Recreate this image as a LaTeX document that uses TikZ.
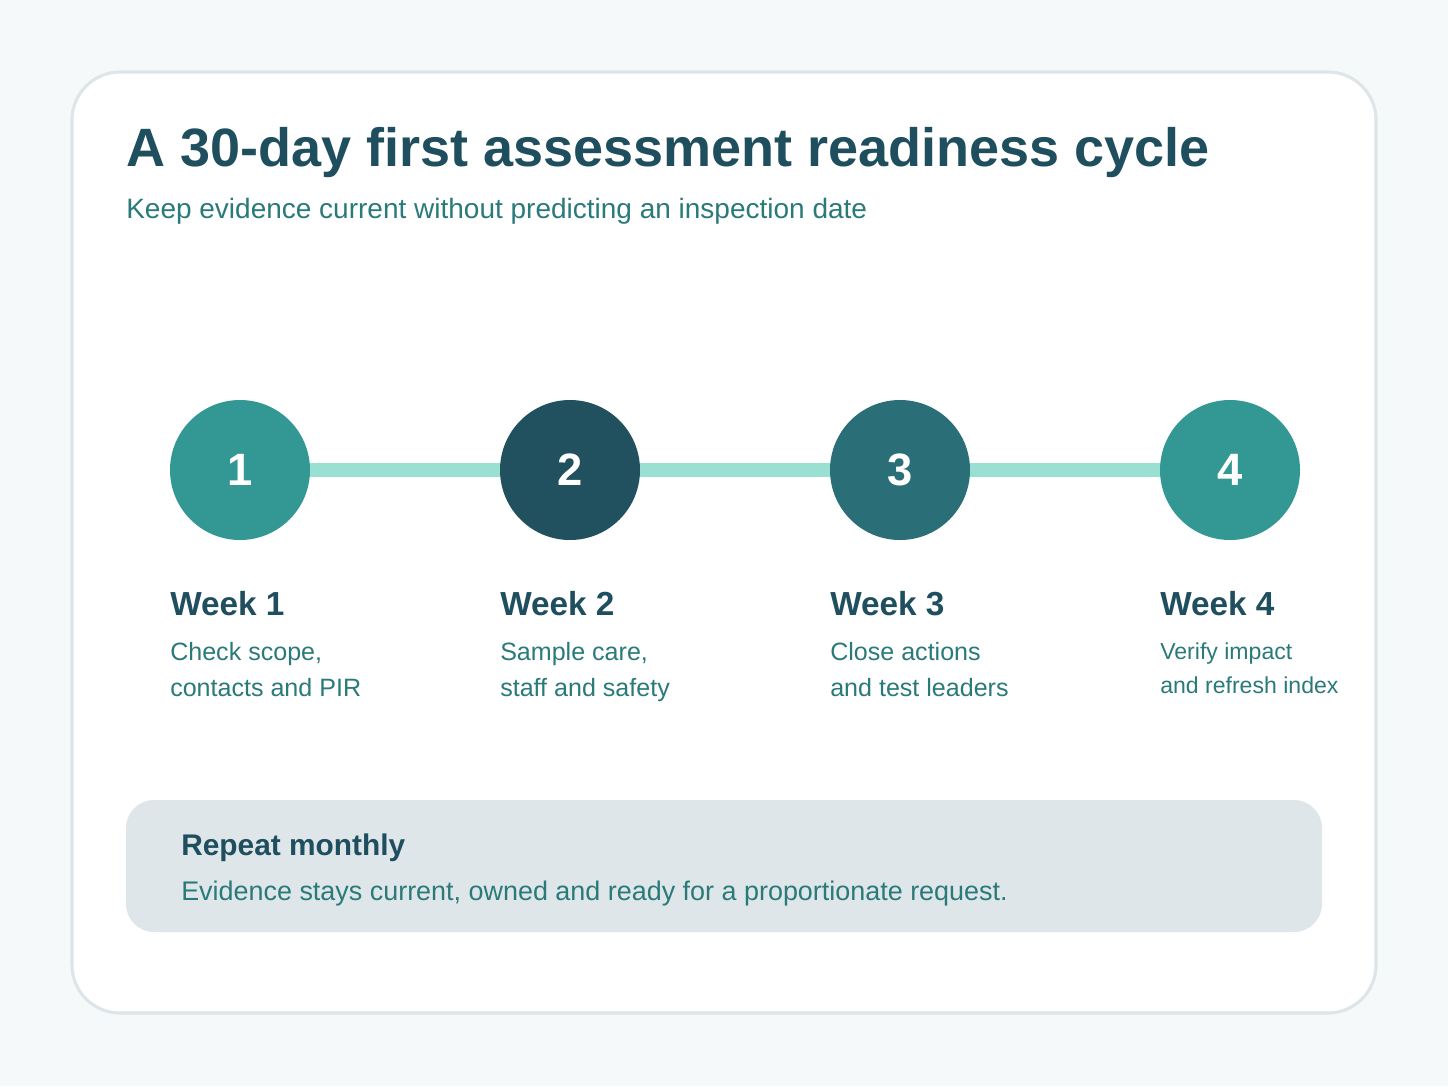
\documentclass[tikz,border=0pt]{standalone}
\usepackage{fontspec}
\setmainfont{Liberation Sans}
\usetikzlibrary{backgrounds}
\definecolor{bgc}{HTML}{F5F9FA}
\definecolor{cardline}{HTML}{DDE5E9}
\definecolor{titlec}{HTML}{1F4F5F}
\definecolor{subc}{HTML}{2A7A7A}
\definecolor{cA}{HTML}{339894}
\definecolor{cB}{HTML}{21505F}
\definecolor{cC}{HTML}{2A6F77}
\definecolor{linkc}{HTML}{99E0D3}
\definecolor{boxc}{HTML}{DFE6E9}
\tikzset{
  stepcircle/.style={circle, minimum size=105pt, inner sep=0pt, text=white, font=\fontsize{34}{34}\selectfont\bfseries},
  weeklabel/.style={anchor=base west, inner sep=0pt, text=titlec, font=\fontsize{25}{25}\selectfont\bfseries},
  desc/.style={anchor=base west, inner sep=0pt, text=subc, align=left, font=\fontsize{18.8}{27}\selectfont},
  descsmall/.style={anchor=base west, inner sep=0pt, text=subc, align=left, font=\fontsize{17.3}{25.5}\selectfont},
  link/.style={draw=linkc, line width=10.5pt},
}
\begin{document}
\begin{tikzpicture}[x=0.75pt, y=-0.75pt]
\useasboundingbox (0,0) rectangle (1448,1086);
% circles
\node[stepcircle, fill=cA] (c1) at (240,470) {1};
\node[stepcircle, fill=cB] (c2) at (570,470) {2};
\node[stepcircle, fill=cC] (c3) at (900,470) {3};
\node[stepcircle, fill=cA] (c4) at (1230,470) {4};
\begin{scope}[on background layer]
  \fill[bgc] (0,0) rectangle (1448,1086);
  \draw[cardline, fill=white, line width=2.3pt, rounded corners=36pt] (72,72) rectangle (1376,1013);
  \draw[link] (c1.center) -- (c2.center);
  \draw[link] (c2.center) -- (c3.center);
  \draw[link] (c3.center) -- (c4.center);
\end{scope}
% title
\node[anchor=base west, inner sep=0pt, text=titlec, font=\fontsize{40.5}{40.5}\selectfont\bfseries] (title) at (126,166) {A 30-day first assessment readiness cycle};
\node[anchor=base west, inner sep=0pt, text=subc, font=\fontsize{21}{21}\selectfont] (subtitle) at (126,218) {Keep evidence current without predicting an inspection date};
% weeks
\node[weeklabel] (w1) at (170,615) {Week 1};
\node[weeklabel] (w2) at (500,615) {Week 2};
\node[weeklabel] (w3) at (830,615) {Week 3};
\node[weeklabel] (w4) at (1160,615) {Week 4};
\node[desc] (d1) at (170,696) {Check scope,\\contacts and PIR};
\node[desc] (d2) at (500,696) {Sample care,\\staff and safety};
\node[desc] (d3) at (830,696) {Close actions\\and test leaders};
\node[descsmall] (d4) at (1160,693) {Verify impact\\and refresh index};
% bottom box
\fill[boxc, rounded corners=21pt] (126,800) rectangle (1322,932);
\node[anchor=base west, inner sep=0pt, text=titlec, font=\fontsize{22.4}{22.4}\selectfont\bfseries] (rep) at (181,855) {Repeat monthly};
\node[anchor=base west, inner sep=0pt, text=subc, font=\fontsize{20.2}{20.2}\selectfont] (repd) at (181,900) {Evidence stays current, owned and ready for a proportionate request.};
\end{tikzpicture}
\end{document}
